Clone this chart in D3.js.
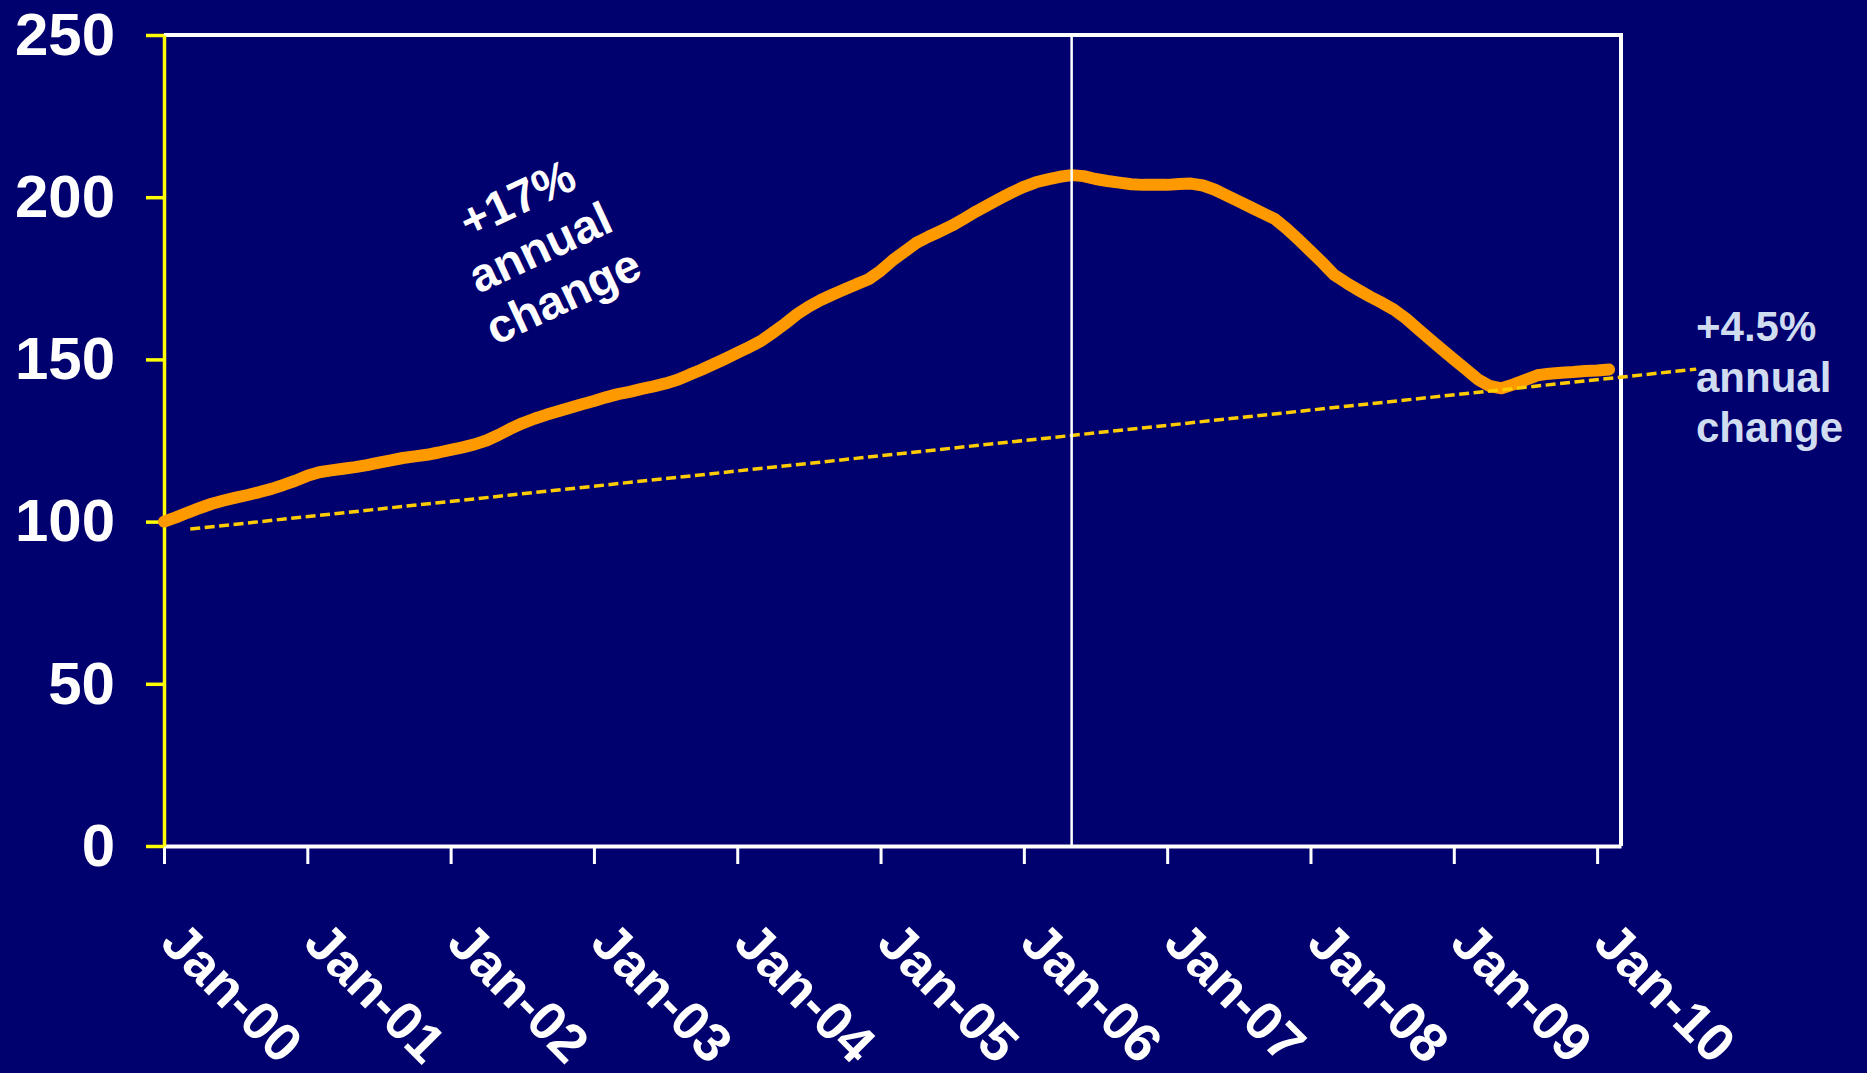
<!DOCTYPE html>
<html>
<head>
<meta charset="utf-8">
<script src="https://cdn.jsdelivr.net/npm/d3@7"></script>
<style>
  html, body { margin: 0; padding: 0; background: #00006E; }
  svg { display: block; }
  text { font-family: "Liberation Sans", Arial, sans-serif; font-weight: bold; }
</style>
</head>
<body>
<svg id="chart" width="1867" height="1073"></svg>
<script>
// Home price index, monthly from Jan-00 (Jan-00 = 100)
const monthLabels = ["Jan-00", "Jan-01", "Jan-02", "Jan-03", "Jan-04", "Jan-05",
                     "Jan-06", "Jan-07", "Jan-08", "Jan-09", "Jan-10"];
const yTicks = [0, 50, 100, 150, 200, 250];
const indexValues = [
  100.0, 101.3, 102.8, 104.2, 105.5, 106.5, 107.4, 108.2, 109.1, 110.1, 111.3, 112.6, // 2000
  114.1, 115.2, 115.8, 116.3, 116.8, 117.4, 118.2, 118.9, 119.6, 120.1, 120.6, 121.3, // 2001
  122.1, 122.9, 123.8, 125.0, 126.7, 128.6, 130.3, 131.7, 132.9, 134.0, 135.1, 136.2, // 2002
  137.2, 138.3, 139.3, 140.0, 140.9, 141.7, 142.6, 143.7, 145.3, 146.8, 148.5, 150.2, // 2003
  152.0, 153.8, 155.7, 158.3, 161.0, 163.9, 166.3, 168.3, 170.0, 171.6, 173.2, 174.7, // 2004
  177.3, 180.5, 183.2, 185.9, 187.8, 189.5, 191.3, 193.4, 195.6, 197.6, 199.6, 201.5, // 2005
  203.2, 204.6, 205.5, 206.3, 206.8, 206.5, 205.6, 205.0, 204.5, 204.0, 203.8, 203.8, // 2006
  203.8, 204.1, 204.2, 203.6, 202.3, 200.5, 198.7, 196.9, 195.1, 193.3, 190.3, 186.9, // 2007
  183.4, 179.8, 176.0, 173.6, 171.4, 169.3, 167.4, 165.3, 162.6, 159.4, 156.2, 153.1, // 2008
  150.0, 147.0, 143.9, 141.8, 141.1, 142.3, 143.7, 145.1, 145.6, 145.9, 146.1, 146.4, // 2009
  146.6, 146.9                                                                         // 2010
];
const monthsShown = 122;          // x axis runs to just past Jan-10
const peakMonth = 76;             // marker at the index peak
const trendStart = { month: 2.2, value: 97.7 };
const trendEnd   = { month: 128.3, value: 147.0 };
const boomNote = ["+17%", "annual", "change"];
const longRunNote = ["+4.5%", "annual", "change"];

const svg = d3.select("#chart");
const plot = { left: 164, top: 35, right: 1621, bottom: 846 };

const x = d3.scaleLinear().domain([0, monthsShown]).range([plot.left, plot.right]);
const y = d3.scaleLinear().domain([0, 250]).range([plot.bottom, plot.top]);

// plot frame (top and right edges)
svg.append("path")
  .attr("d", d3.line()([[x(0), y(250)], [x(monthsShown), y(250)], [x(monthsShown), y(0)]]))
  .attr("fill", "none").attr("stroke", "#FFFFFF").attr("stroke-width", 4);

// x axis
const xAxis = d3.axisBottom(x)
  .tickValues(monthLabels.map((d, i) => i * 12))
  .tickFormat((d, i) => monthLabels[i])
  .tickSize(18).tickSizeOuter(0);
const gx = svg.append("g").attr("transform", `translate(0,${plot.bottom})`).call(xAxis);
gx.select(".domain").attr("stroke", "#FFFFFF").attr("stroke-width", 4);
gx.selectAll(".tick line").attr("stroke", "#FFFFFF").attr("stroke-width", 3);
gx.selectAll(".tick text")
  .attr("fill", "#FFFFFF").attr("font-size", 54)
  .attr("y", 0).attr("dy", 0).attr("x", 0)
  .attr("text-anchor", "start")
  .attr("transform", "translate(-6,99) rotate(45)");

// y axis
const yAxis = d3.axisLeft(y).tickValues(yTicks).tickSize(18).tickSizeOuter(0).tickPadding(31);
const gy = svg.append("g").attr("transform", `translate(${plot.left},0)`).call(yAxis);
gy.select(".domain").attr("stroke", "#FFFF00").attr("stroke-width", 3.5);
gy.selectAll(".tick line").attr("stroke", "#FFFF00").attr("stroke-width", 3.5);
gy.selectAll(".tick text").attr("fill", "#FFFFFF").attr("font-size", 60);

// index line
svg.append("path")
  .datum(indexValues)
  .attr("d", d3.line().x((d, i) => x(i)).y(d => y(d)))
  .attr("fill", "none")
  .attr("stroke", "#FF9900")
  .attr("stroke-width", 12)
  .attr("stroke-linejoin", "round")
  .attr("stroke-linecap", "round");

// long-run trend
svg.append("path")
  .attr("d", d3.line()([[x(trendStart.month), y(trendStart.value)], [x(trendEnd.month), y(trendEnd.value)]]))
  .attr("fill", "none")
  .attr("stroke", "#FFCC00")
  .attr("stroke-width", 3.5)
  .attr("stroke-dasharray", "10,4.5");

// peak marker
svg.append("line")
  .attr("x1", x(peakMonth)).attr("x2", x(peakMonth))
  .attr("y1", y(250)).attr("y2", y(0))
  .attr("stroke", "#FFFFFF").attr("stroke-width", 2.5);

// boom-period annotation
const boom = svg.append("g").attr("transform", "translate(547,262) rotate(-25)");
boom.selectAll("text").data(boomNote).join("text")
  .attr("x", 0).attr("y", (d, i) => (i - 1) * 54)
  .attr("text-anchor", "middle")
  .attr("font-size", 47)
  .attr("fill", "#FFFFFF")
  .text(d => d);

// long-run annotation
const longRun = svg.append("g").attr("transform", "translate(1696,341)");
longRun.selectAll("text").data(longRunNote).join("text")
  .attr("x", 0).attr("y", (d, i) => i * 50.5)
  .attr("font-size", 42)
  .attr("fill", "#D0DCF0")
  .text(d => d);
</script>
</body>
</html>
